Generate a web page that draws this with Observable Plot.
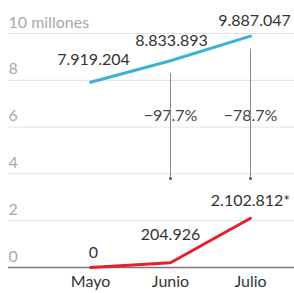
<!DOCTYPE html>
<html>
<head>
<meta charset="utf-8">
<script src="https://cdn.jsdelivr.net/npm/d3@7"></script>
<script src="https://cdn.jsdelivr.net/npm/@observablehq/plot@0.6"></script>
<style>
html,body{margin:0;padding:0;background:#fff;}
#chart svg{display:block;}
</style>
</head>
<body>
<div id="chart"></div>
<script>
const months = ["Mayo", "Junio", "Julio"];
const before = [7.919204, 8.833893, 9.887047];      // millones
const after = [0, 0.204926, 2.102812];              // millones
const beforeLabels = ["7.919.204", "8.833.893", "9.887.047"];
const afterLabels = ["0", "204.926", "2.102.812*"];
const changeMonths = ["Junio", "Julio"];
const changeLabels = ["\u221297.7%", "\u221278.7%"];
const yTicks = [0, 2, 4, 6, 8, 10];
const yTickLabels = ["0", "2", "4", "6", "8", "10 millones"];

const blueData = months.map((m, i) => ({m, v: before[i], label: beforeLabels[i]}));
const redData = months.map((m, i) => ({m, v: after[i], label: afterLabels[i]}));
const changeData = changeMonths.map((m, i) => ({m, top: before[months.indexOf(m)], label: changeLabels[i]}));
const tickData = yTicks.map((t, i) => ({t, label: yTickLabels[i]}));

const font = "Lato, 'Open Sans', sans-serif";
const fs = 16;
const blueDy = [-22, -20, -15];
const blueDx = [3, 1, 4];
const redDy = [-15, -28, -17];
const redDx = [3, 0, 0];

const plot = Plot.plot({
  width: 294,
  height: 293,
  marginLeft: 8,
  marginRight: 0,
  marginTop: 33,
  marginBottom: 26,
  style: {fontFamily: font, background: "#fff"},
  x: {type: "point", domain: months, range: [89, 250], padding: 0, axis: null},
  y: {domain: [0, 10], axis: null},
  marks: [
    Plot.ruleY(yTicks.filter(t => t > 0), {stroke: "#e2e2e2", strokeWidth: 1}),
    Plot.ruleY([0], {stroke: "#777", strokeWidth: 1.5}),
    Plot.text(tickData, {y: "t", text: "label", frameAnchor: "left", textAnchor: "start", dy: -11, fill: "#a8a8a8", fontSize: fs}),
    Plot.text(changeData, {x: "m", y: 6, text: "label", dy: -11, fill: "#444", fontSize: fs}),
    Plot.ruleX(changeData, {x: "m", y1: d => d.top - 0.55, y2: 3.8, stroke: "#888", strokeWidth: 1}),
    Plot.dot(changeData, {x: "m", y: 3.8, r: 1.5, fill: "#555", stroke: null}),
    Plot.line(blueData, {x: "m", y: "v", stroke: "#3ab3d0", strokeWidth: 3}),
    Plot.line(redData, {x: "m", y: "v", stroke: "#e6202b", strokeWidth: 3}),
    ...blueData.map((d, i) => Plot.text([d], {x: "m", y: "v", text: "label", dx: blueDx[i], dy: blueDy[i], fill: "#333", fontSize: fs})),
    ...redData.map((d, i) => Plot.text([d], {x: "m", y: "v", text: "label", dx: redDx[i], dy: redDy[i], fill: "#333", fontSize: fs})),
    Plot.text(months, {x: d => d, frameAnchor: "bottom", dy: 19, fill: "#333", fontSize: fs})
  ]
});
document.getElementById("chart").appendChild(plot);
</script>
</body>
</html>
